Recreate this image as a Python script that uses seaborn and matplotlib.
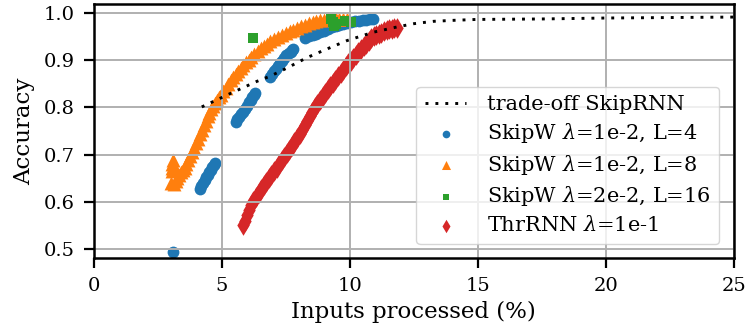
import numpy as np
import pandas as pd
import seaborn as sns
import matplotlib
matplotlib.use("Agg")
import matplotlib.pyplot as plt

# trade-off curve of SkipRNN
tradeoff_x = [4.22, 5.32, 6.37, 6.89, 7.5, 8.32, 9.0, 9.88, 10.92, 11.84, 12.5, 13.27, 14.0, 14.96, 17.5, 20.0, 25.0]
tradeoff_y = [0.801, 0.829, 0.855, 0.866, 0.882, 0.905, 0.921, 0.941, 0.959, 0.970, 0.977, 0.982, 0.984, 0.986, 0.987, 0.989, 0.991]

# SkipW lambda=1e-2, L=4
skipw4_x = [3.11,
            4.15, 4.21, 4.27, 4.33, 4.39, 4.45, 4.51, 4.57, 4.63, 4.69, 4.74,
            5.55, 5.60, 5.68, 5.76, 5.84, 5.92, 6.00, 6.08, 6.14, 6.20, 6.26, 6.30,
            6.89, 6.97, 7.05, 7.13, 7.21, 7.29, 7.37, 7.45, 7.53, 7.61, 7.69, 7.76, 7.80,
            8.25, 8.40, 8.55, 8.70, 8.85, 9.00, 9.15, 9.30, 9.45, 9.60, 9.75, 9.90,
            10.05, 10.20, 10.35, 10.50, 10.65, 10.80, 10.92]
skipw4_y = [0.494,
            0.627, 0.634, 0.640, 0.646, 0.652, 0.658, 0.663, 0.668, 0.673, 0.679, 0.683,
            0.769, 0.775, 0.780, 0.786, 0.791, 0.797, 0.804, 0.811, 0.816, 0.822, 0.827, 0.831,
            0.864, 0.870, 0.876, 0.882, 0.888, 0.893, 0.899, 0.905, 0.910, 0.914, 0.918, 0.922, 0.924,
            0.946, 0.950, 0.953, 0.956, 0.959, 0.962, 0.966, 0.970, 0.972, 0.975, 0.977, 0.979,
            0.980, 0.982, 0.983, 0.984, 0.985, 0.986, 0.987]

# SkipW lambda=1e-2, L=8
skipw8_x = [3.05, 3.05, 3.05, 3.08, 3.12, 3.02, 3.12, 3.20, 3.27, 3.33, 3.40, 3.47, 3.55,
            3.62, 3.70, 3.78, 3.85, 3.92, 4.00, 4.07, 4.15, 4.22, 4.30, 4.37, 4.45, 4.52,
            4.60, 4.67, 4.75, 4.82, 4.90, 4.97, 5.05, 5.15, 5.25, 5.35, 5.45, 5.55, 5.65,
            5.75, 5.85, 5.95, 6.05, 6.15, 6.27, 6.40, 6.52, 6.65, 6.78, 6.90, 7.05, 7.20,
            7.35, 7.50, 7.65, 7.80, 7.95, 8.10, 8.25, 8.40, 8.55, 8.70, 8.85, 9.00, 9.15,
            9.30, 9.45, 9.60, 9.75, 9.90]
skipw8_y = [0.665, 0.672, 0.680, 0.688, 0.676, 0.640, 0.638, 0.645, 0.650, 0.657, 0.663, 0.668, 0.672,
            0.680, 0.688, 0.697, 0.706, 0.714, 0.724, 0.733, 0.743, 0.752, 0.762, 0.771, 0.781, 0.789,
            0.796, 0.803, 0.809, 0.815, 0.821, 0.827, 0.834, 0.842, 0.850, 0.857, 0.864, 0.870, 0.877,
            0.883, 0.889, 0.895, 0.901, 0.907, 0.913, 0.919, 0.925, 0.930, 0.935, 0.940, 0.944, 0.949,
            0.953, 0.957, 0.961, 0.964, 0.968, 0.972, 0.975, 0.978, 0.980, 0.982, 0.984, 0.985, 0.986,
            0.986, 0.987, 0.987, 0.987, 0.987]

# SkipW lambda=2e-2, L=16
skipw16_x = [6.23, 9.25, 9.35, 9.38, 9.45, 9.82, 10.05]
skipw16_y = [0.947, 0.986, 0.980, 0.972, 0.977, 0.982, 0.980]

# ThrRNN lambda=1e-1
thr_x = [5.84, 5.92, 6.00, 6.08, 6.16, 6.24, 6.34, 6.44, 6.54, 6.64, 6.74, 6.84, 6.94, 7.04,
         7.14, 7.24, 7.34, 7.44, 7.54, 7.64, 7.74, 7.84, 7.94, 8.04, 8.14, 8.24, 8.34, 8.44,
         8.54, 8.64, 8.74, 8.84, 8.94, 9.04, 9.14, 9.24, 9.34, 9.44, 9.54, 9.64, 9.74, 9.84,
         9.94, 10.04, 10.14, 10.24, 10.34, 10.44, 10.54, 10.64, 10.74, 10.84, 10.94, 11.04,
         11.14, 11.24, 11.34, 11.44, 11.54, 11.64, 11.74, 11.84]
thr_y = [0.551, 0.560, 0.572, 0.584, 0.594, 0.602, 0.611, 0.619, 0.627, 0.635, 0.642, 0.650, 0.658, 0.665,
         0.672, 0.680, 0.688, 0.696, 0.703, 0.711, 0.719, 0.727, 0.735, 0.744, 0.753, 0.762, 0.772, 0.782,
         0.791, 0.800, 0.808, 0.816, 0.824, 0.831, 0.838, 0.845, 0.852, 0.859, 0.866, 0.873, 0.880, 0.887,
         0.893, 0.899, 0.905, 0.911, 0.917, 0.923, 0.929, 0.935, 0.941, 0.946, 0.950, 0.953,
         0.956, 0.958, 0.961, 0.963, 0.965, 0.966, 0.967, 0.968]

plt.rcParams['font.family'] = 'DejaVu Serif'
plt.rcParams['mathtext.fontset'] = 'dejavuserif'
plt.rcParams['font.size'] = 14

fig = plt.figure(figsize=(7.48, 3.35), dpi=100)
ax = fig.add_axes([0.1253, 0.229, 0.8556, 0.759])

# Grid goes above the scatter collections, below the dotted line
ax.grid(True, color='#b0b0b0', linewidth=1.4)

sns.lineplot(x=tradeoff_x, y=tradeoff_y, ax=ax, color='k', linewidth=2.1,
             linestyle=(0, (1, 2.4)), estimator=None, sort=False,
             label='trade-off SkipRNN')
sns.scatterplot(x=skipw4_x, y=skipw4_y, ax=ax, color='tab:blue', marker='o', s=72,
                linewidth=0, label=r'SkipW $\lambda$=1e-2, L=4')
sns.scatterplot(x=skipw8_x, y=skipw8_y, ax=ax, color='tab:orange', marker='^', s=100,
                linewidth=0, label=r'SkipW $\lambda$=1e-2, L=8')
sns.scatterplot(x=skipw16_x, y=skipw16_y, ax=ax, color='tab:green', marker='s', s=44,
                linewidth=0, label=r'SkipW $\lambda$=2e-2, L=16')
sns.scatterplot(x=thr_x, y=thr_y, ax=ax, color='tab:red', marker='d', s=110,
                linewidth=0, label=r'ThrRNN $\lambda$=1e-1')

ax.set_xlim(0, 25)
ax.set_ylim(0.481, 1.0186)
ax.set_xticks([0, 5, 10, 15, 20, 25])
ax.set_yticks([0.5, 0.6, 0.7, 0.8, 0.9, 1.0])
ax.set_xlabel('Inputs processed (%)', fontsize=16.5, labelpad=4)
ax.set_ylabel('Accuracy', fontsize=16.5, labelpad=6)

for side in ax.spines.values():
    side.set_linewidth(1.8)
    side.set_color('k')
ax.tick_params(length=7.5, width=1.6, pad=6, colors='k')

ax.legend(loc='lower right', markerscale=0.65, fontsize=15, labelspacing=0.35,
          borderaxespad=0.7, handletextpad=1.0)

fig.savefig('out.png', dpi=100)
